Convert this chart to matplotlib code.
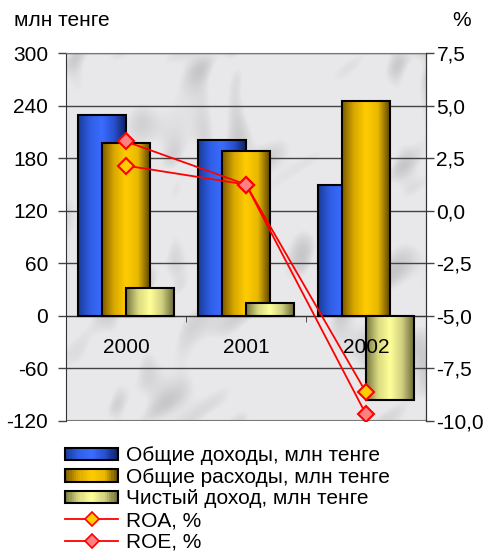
import matplotlib
matplotlib.use("Agg")
import matplotlib.pyplot as plt
import numpy as np
from matplotlib.colors import LinearSegmentedColormap
from matplotlib.legend_handler import HandlerBase
from matplotlib.patches import Rectangle
from matplotlib.lines import Line2D

plt.rcParams['font.family'] = ['Liberation Sans', 'DejaVu Sans']

years = ['2000', '2001', '2002']
income = [229, 201, 149]
expenses = [197, 188, 245]
net_income = [32, 14, -96]
roa = [2.15, 1.25, -8.65]
roe = [3.3, 1.25, -9.7]

bar_names = ['Общие доходы, млн тенге', 'Общие расходы, млн тенге', 'Чистый доход, млн тенге']
line_names = ['ROA, %', 'ROE, %']
left_ticks = [-120, -60, 0, 60, 120, 180, 240, 300]
right_ticks = [-10, -7.5, -5, -2.5, 0, 2.5, 5, 7.5]

FS = 15

cmaps = [
    LinearSegmentedColormap.from_list('b', ['#183a96', '#2f5ee6', '#3a6cff', '#2850d0', '#0e1f60']),
    LinearSegmentedColormap.from_list('o', ['#7a5a00', '#d9a800', '#ffcc00', '#e8b800', '#5e4600']),
    LinearSegmentedColormap.from_list('y', ['#76763e', '#d8d880', '#ffff99', '#d0d080', '#6a6a38']),
]

fig = plt.figure(figsize=(4.94, 5.53), dpi=100)
ax = fig.add_axes([0.1336, 0.2393, 0.7287, 0.6643])

# marble-like background (decorative, deterministic)
yy, xx = np.mgrid[0:1:300j, 0:1:300j]
t = (np.sin(14 * xx + 9 * yy + 2.5 * np.sin(8 * yy + 3 * xx))
     + 0.7 * np.sin(31 * xx - 17 * yy + 3 * np.sin(13 * xx + 5 * yy))
     + 0.5 * np.sin(47 * xx + 29 * yy + 2 * np.sin(19 * yy)))
g = 0.91 - 0.08 * np.clip(t - 0.5, 0, None)
bg = np.dstack([g, g, g + 0.01])
bg = np.clip(bg, 0, 1)
ax.imshow(bg, extent=[0, 1, 0, 1], transform=ax.transAxes, aspect='auto', zorder=0,
          interpolation='bilinear')

x = np.arange(len(years))
width = 0.4
offsets = [-0.2, 0.0, 0.2]
grad = np.linspace(0, 1, 256).reshape(1, -1)
for i, (vals, cm) in enumerate(zip([income, expenses, net_income], cmaps)):
    bars = ax.bar(x + offsets[i], vals, width, facecolor='none', edgecolor='black',
                  linewidth=1.5, zorder=3 + i)
    for b in bars:
        x0, y0 = b.get_x(), min(b.get_y(), b.get_y() + b.get_height())
        x1, y1 = x0 + b.get_width(), max(b.get_y(), b.get_y() + b.get_height())
        im = ax.imshow(grad, extent=[x0, x1, y0, y1], aspect='auto', cmap=cm,
                       zorder=3 + i - 0.01, interpolation='bilinear')
        im.set_clip_path(b)

ax.set_xlim(-0.5, 2.5)
ax.set_ylim(-120, 300)
ax.set_yticks(left_ticks)
ax.set_yticklabels([str(v) for v in left_ticks], fontsize=FS)
ax.yaxis.grid(True, color='#444444', linewidth=1.0)
ax.set_axisbelow(True)
ax.tick_params(axis='y', direction='out', length=6, width=1, color='#444444', pad=7)

ax.spines['bottom'].set_position(('data', 0))
ax.spines['bottom'].set_color('#333333')
ax.spines['top'].set_color('#777777')
ax.spines['left'].set_color('#333333')
ax.spines['right'].set_color('#333333')
ax.set_xticks(x)
ax.set_xticklabels([])
ax.set_xticks([0.5, 1.5], minor=True)
ax.tick_params(axis='x', which='major', length=0)
ax.tick_params(axis='x', which='minor', direction='out', length=4, color='#333333')
ax.axhline(-120, color='#777777', linewidth=1.5, zorder=2)
for xi, lab in zip(x, years):
    ax.annotate(lab, (xi, 0), xytext=(0, -16), textcoords='offset points',
                ha='center', va='top', fontsize=FS, zorder=10)

ax2 = ax.twinx()
ax2.set_ylim(-10, 7.5)
ax2.set_yticks(right_ticks)
ax2.set_yticklabels([f'{v:.1f}'.replace('.', ',') for v in right_ticks], fontsize=FS)
ax2.tick_params(axis='y', direction='out', length=6, width=1, color='#444444', pad=1.5)
for s in ['top', 'bottom', 'left']:
    ax2.spines[s].set_visible(False)
ax2.spines['right'].set_color('#333333')

ax2.plot(x, roa, color='#ff0000', linewidth=1.3, marker='D', markersize=8.5,
         markerfacecolor='#ffcc00', markeredgecolor='#ff0000', markeredgewidth=1.5, zorder=5)
ax2.plot(x, roe, color='#ff0000', linewidth=1.3, marker='D', markersize=8.5,
         markerfacecolor='#ff8080', markeredgecolor='#ff0000', markeredgewidth=1.5, zorder=6)

fig.text(14 / 494, 1 - 20 / 553, 'млн тенге', fontsize=FS, va='center', ha='left')
fig.text(471 / 494, 1 - 20 / 553, '%', fontsize=FS, va='center', ha='right')


class GradKey:
    def __init__(self, cmap):
        self.cmap = cmap


class GradHandler(HandlerBase):
    def create_artists(self, legend, orig_handle, xdescent, ydescent, width, height, fontsize, trans):
        cm = orig_handle.cmap
        n = 24
        arts = []
        h = height * 0.85
        y0 = -ydescent + (height - h) / 2
        for k in range(n):
            r = Rectangle((-xdescent + width * k / n, y0), width / n + 0.3, h,
                          facecolor=cm((k + 0.5) / n), edgecolor='none', transform=trans)
            arts.append(r)
        arts.append(Rectangle((-xdescent, y0), width, h, facecolor='none',
                              edgecolor='black', linewidth=1.5, transform=trans))
        return arts


keys = [GradKey(cm) for cm in cmaps]
handles = keys + [
    Line2D([], [], color='#ff0000', linewidth=1.3, marker='D', markersize=7,
           markerfacecolor='#ffcc00', markeredgecolor='#ff0000', markeredgewidth=1.2),
    Line2D([], [], color='#ff0000', linewidth=1.3, marker='D', markersize=7,
           markerfacecolor='#ff8080', markeredgecolor='#ff0000', markeredgewidth=1.2),
]
hmap = {GradKey: GradHandler()}
fig.legend(handles, bar_names + line_names, handler_map=hmap,
           loc='upper left', bbox_to_anchor=(65 / 494, 1 - 446 / 553),
           frameon=False, fontsize=FS, handlelength=2.55, handletextpad=0.4,
           labelspacing=0.13, borderaxespad=0, borderpad=0.0)

fig.savefig('out.png', dpi=100)
